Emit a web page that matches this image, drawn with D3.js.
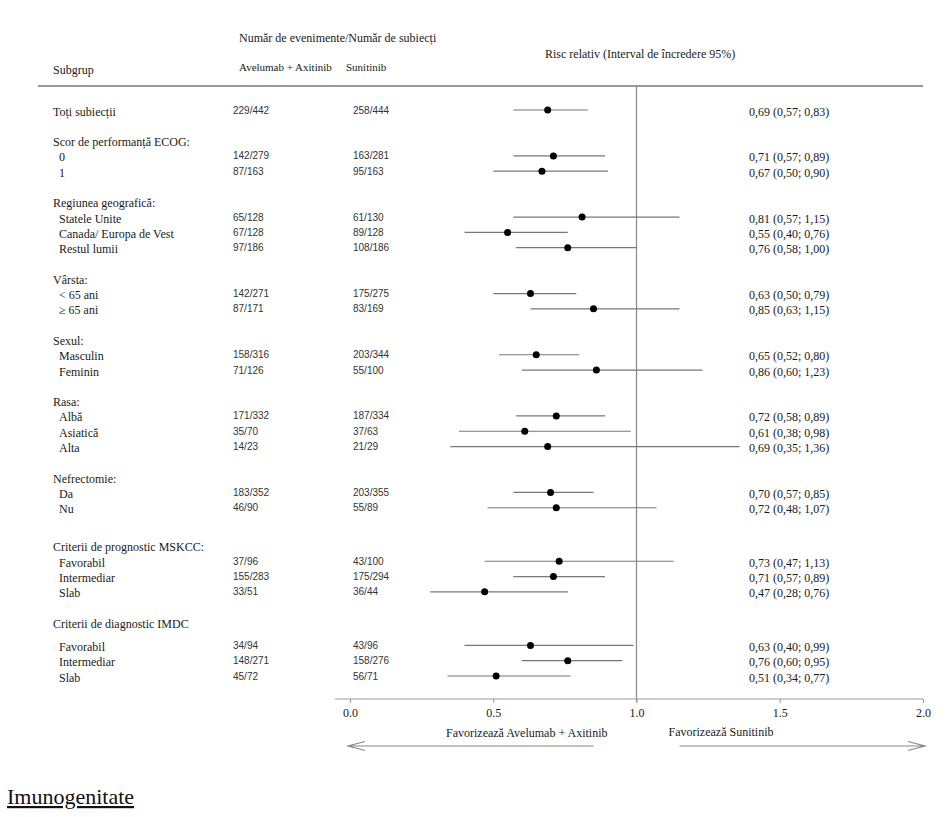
<!DOCTYPE html>
<html>
<head>
  <meta charset="utf-8">
  <script src="https://d3js.org/d3.v7.min.js"></script>
  <style>
    body { margin: 0; background: #fff; }
    text { font-family: "Liberation Serif", "Times New Roman", serif; fill: #1a1a1a; font-size: 12px; }
    .num { font-family: "Liberation Sans", Arial, sans-serif; font-size: 10px; fill: #333; }
    .axis path { display: none; }
    .axis line { stroke: #999; }
    .axis text { font-family: "Liberation Serif", "Times New Roman", serif; font-size: 12px; fill: #1a1a1a; }
  </style>
</head>
<body>
<div id="chart"></div>
<script>
// data
var groups = ["Scor de performanță ECOG:", "Regiunea geografică:", "Vârsta:", "Sexul:", "Rasa:",
  "Nefrectomie:", "Criterii de prognostic MSKCC:", "Criterii de diagnostic IMDC"];

var labels = ["Toți subiecții", "0", "1", "Statele Unite", "Canada/ Europa de Vest", "Restul lumii",
  "< 65 ani", "≥ 65 ani", "Masculin", "Feminin", "Albă", "Asiatică", "Alta", "Da", "Nu",
  "Favorabil", "Intermediar", "Slab", "Favorabil", "Intermediar", "Slab"];

var groupOf = [-1, 0, 0, 1, 1, 1, 2, 2, 3, 3, 4, 4, 4, 5, 5, 6, 6, 6, 7, 7, 7];

var eventsAA = ["229/442", "142/279", "87/163", "65/128", "67/128", "97/186", "142/271", "87/171",
  "158/316", "71/126", "171/332", "35/70", "14/23", "183/352", "46/90", "37/96", "155/283", "33/51",
  "34/94", "148/271", "45/72"];

var eventsSun = ["258/444", "163/281", "95/163", "61/130", "89/128", "108/186", "175/275", "83/169",
  "203/344", "55/100", "187/334", "37/63", "21/29", "203/355", "55/89", "43/100", "175/294", "36/44",
  "43/96", "158/276", "56/71"];

var hr     = [0.69, 0.71, 0.67, 0.81, 0.55, 0.76, 0.63, 0.85, 0.65, 0.86, 0.72, 0.61, 0.69, 0.70, 0.72, 0.73, 0.71, 0.47, 0.63, 0.76, 0.51];
var ciLow  = [0.57, 0.57, 0.50, 0.57, 0.40, 0.58, 0.50, 0.63, 0.52, 0.60, 0.58, 0.38, 0.35, 0.57, 0.48, 0.47, 0.57, 0.28, 0.40, 0.60, 0.34];
var ciHigh = [0.83, 0.89, 0.90, 1.15, 0.76, 1.00, 0.79, 1.15, 0.80, 1.23, 0.89, 0.98, 1.36, 0.85, 1.07, 1.13, 0.89, 0.76, 0.99, 0.95, 0.77];

var xTicks = [0, 0.5, 1, 1.5, 2];

var width = 948, height = 817;

var svg = d3.select("#chart").append("svg")
  .attr("width", width)
  .attr("height", height);

// build row slots (gap between groups, a bit more before the last two)
var rows = [], heads = [];
var slot = 0, prev = -1;
labels.forEach(function(l, i) {
  var g = groupOf[i];
  if (i > 0 && g !== prev) {
    slot += (g === 6) ? 2.5 : 2;
    heads.push({ label: groups[g], slot: slot });
    slot += (g === 7) ? 1.5 : 1;
  } else if (i > 0) {
    slot += 1;
  }
  rows.push({ label: l, slot: slot, aa: eventsAA[i], sun: eventsSun[i],
    hr: hr[i], lo: ciLow[i], hi: ciHigh[i], top: i === 0 });
  prev = g;
});

var y = d3.scaleLinear().domain([0, 37]).range([110, 676]);
var x = d3.scaleLinear().domain([0, 2]).range([350, 923]);

var fmt = function(v) { return d3.format(".2f")(v).replace(".", ","); };

// headers
svg.append("text").attr("x", 239).attr("y", 42).text("Număr de evenimente/Număr de subiecți");
svg.append("text").attr("x", 53).attr("y", 74).text("Subgrup");
svg.append("text").attr("x", 239).attr("y", 71).style("font-size", "11px").text("Avelumab + Axitinib");
svg.append("text").attr("x", 346).attr("y", 71).style("font-size", "11px").text("Sunitinib");
svg.append("text").attr("x", 545).attr("y", 58).text("Risc relativ (Interval de încredere 95%)");

svg.append("line")
  .attr("x1", 38).attr("x2", x(2))
  .attr("y1", 86).attr("y2", 86)
  .style("stroke", "#999").style("stroke-width", 2);

// reference line at 1
var axisY = 699;
svg.append("line")
  .attr("x1", x(1)).attr("x2", x(1))
  .attr("y1", 86).attr("y2", axisY + 3)
  .style("stroke", "#888").style("stroke-width", 1.2);

// group headings
svg.selectAll(".head")
  .data(heads)
  .enter().append("text")
  .attr("class", "head")
  .attr("x", 53)
  .attr("y", function(d) { return y(d.slot) + 5.5; })
  .text(function(d) { return d.label; });

// row labels and counts
svg.selectAll(".lab")
  .data(rows)
  .enter().append("text")
  .attr("class", "lab")
  .attr("x", function(d) { return d.top ? 53 : 59; })
  .attr("y", function(d) { return y(d.slot) + 5.5; })
  .text(function(d) { return d.label; });

svg.selectAll(".aa")
  .data(rows)
  .enter().append("text")
  .attr("class", "num")
  .attr("x", 233)
  .attr("y", function(d) { return y(d.slot) + 3.5; })
  .text(function(d) { return d.aa; });

svg.selectAll(".sun")
  .data(rows)
  .enter().append("text")
  .attr("class", "num")
  .attr("x", 353)
  .attr("y", function(d) { return y(d.slot) + 3.5; })
  .text(function(d) { return d.sun; });

// confidence intervals and point estimates
svg.selectAll(".ci")
  .data(rows)
  .enter().append("line")
  .attr("class", "ci")
  .attr("x1", function(d) { return x(d.lo); })
  .attr("x2", function(d) { return x(d.hi); })
  .attr("y1", function(d) { return y(d.slot); })
  .attr("y2", function(d) { return y(d.slot); })
  .style("stroke", "#777").style("stroke-width", 1.2);

svg.selectAll(".dot")
  .data(rows)
  .enter().append("circle")
  .attr("class", "dot")
  .attr("cx", function(d) { return x(d.hr); })
  .attr("cy", function(d) { return y(d.slot); })
  .attr("r", 3.5)
  .style("fill", "#000");

svg.selectAll(".est")
  .data(rows)
  .enter().append("text")
  .attr("class", "est")
  .attr("x", 749)
  .attr("y", function(d) { return y(d.slot) + 5.5; })
  .text(function(d) { return fmt(d.hr) + " (" + fmt(d.lo) + "; " + fmt(d.hi) + ")"; });

// x axis
svg.append("line")
  .attr("x1", x(0) - 15).attr("x2", x(2))
  .attr("y1", axisY).attr("y2", axisY)
  .style("stroke", "#999").style("stroke-width", 1.2);

svg.append("g")
  .attr("class", "axis")
  .attr("transform", "translate(0," + axisY + ")")
  .call(d3.axisBottom(x).tickValues(xTicks).tickSize(4).tickPadding(5.5)
    .tickFormat(d3.format(".1f")));

// favour labels and arrows
svg.append("text")
  .attr("x", x(1) - 29).attr("y", 737)
  .style("text-anchor", "end")
  .text("Favorizează Avelumab + Axitinib");
svg.append("text")
  .attr("x", x(1) + 32).attr("y", 736)
  .text("Favorizează Sunitinib");

var arrowY = 746;
var arrow = d3.line();
svg.append("path")
  .attr("d", arrow([[x(0.85), arrowY], [x(0) - 2, arrowY]]) + "M" + (x(0) + 15) + "," + (arrowY - 4.5) +
    "L" + (x(0) - 2) + "," + arrowY + "L" + (x(0) + 15) + "," + (arrowY + 4.5))
  .style("fill", "none").style("stroke", "#888").style("stroke-width", 1.2);
svg.append("path")
  .attr("d", arrow([[x(1.15), arrowY], [x(2) + 2, arrowY]]) + "M" + (x(2) - 15) + "," + (arrowY - 4.5) +
    "L" + (x(2) + 2) + "," + arrowY + "L" + (x(2) - 15) + "," + (arrowY + 4.5))
  .style("fill", "none").style("stroke", "#888").style("stroke-width", 1.2);

// section title under the figure
svg.append("text")
  .attr("x", 7).attr("y", 804)
  .style("font-size", "22px")
  .style("text-decoration", "underline")
  .style("fill", "#111")
  .text("Imunogenitate");
</script>
</body>
</html>
